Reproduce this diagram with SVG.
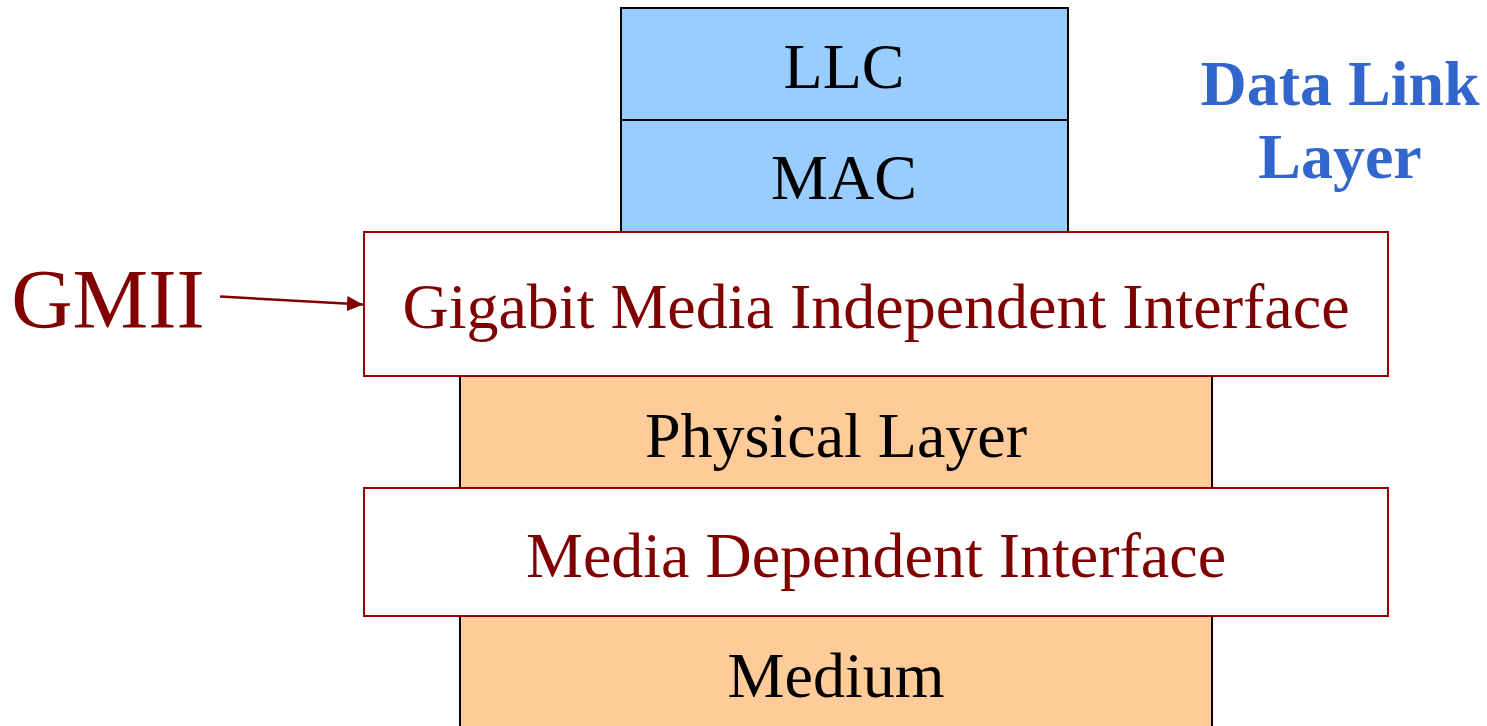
<svg xmlns="http://www.w3.org/2000/svg" width="1487" height="726" viewBox="0 0 1487 726">
<defs>
<style>
.t{font-family:"Liberation Serif","Times New Roman",serif;text-anchor:middle;font-size:64px}
.blk{fill:#000}
.red{fill:#800000}
.blue{fill:#99CCFF;stroke:#000;stroke-width:2}
.orange{fill:#FFCC99;stroke:#000;stroke-width:2}
.iface{fill:#fff;stroke:#990000;stroke-width:2}
.dl{font-family:"Liberation Serif","Times New Roman",serif;font-weight:bold;font-size:64px;fill:#3366CC;text-anchor:middle}
</style>
<marker id="ah" viewBox="0 0 16 16" refX="16" refY="8" markerWidth="16" markerHeight="16" markerUnits="userSpaceOnUse" orient="auto">
<path d="M0,0.5 L16,8 L0,15.5 z" fill="#800000"/>
</marker>
</defs>
<rect width="1487" height="726" fill="#fff"/>
<g id="medium"><rect class="orange" x="460" y="616" width="752" height="120"/><text class="t blk" x="836" y="697">Medium</text></g>
<g id="physical"><rect class="orange" x="460" y="376" width="752" height="112"/><text class="t blk" x="836" y="457">Physical Layer</text></g>
<g id="mdi"><rect class="iface" x="364" y="488" width="1024" height="128"/><text class="t red" x="876" y="577">Media Dependent Interface</text></g>
<g id="llc"><rect class="blue" x="621" y="8" width="447" height="112"/><text class="t blk" x="844" y="88">LLC</text></g>
<g id="mac"><rect class="blue" x="621" y="120" width="447" height="112"/><text class="t blk" x="844" y="199">MAC</text></g>
<g id="gmii-box"><rect class="iface" x="364" y="232" width="1024" height="144"/><text class="t red" x="876" y="328">Gigabit Media Independent Interface</text></g>
<g id="gmii-label"><text class="t red" x="108" y="328" style="font-size:85px">GMII</text></g>
<g id="datalink"><text class="dl" x="1340" y="105">Data Link</text><text class="dl" x="1340" y="178">Layer</text></g>
<g id="connectors"><line x1="220" y1="296.5" x2="363" y2="304.5" stroke="#800000" stroke-width="2.5" marker-end="url(#ah)"/></g>
</svg>
